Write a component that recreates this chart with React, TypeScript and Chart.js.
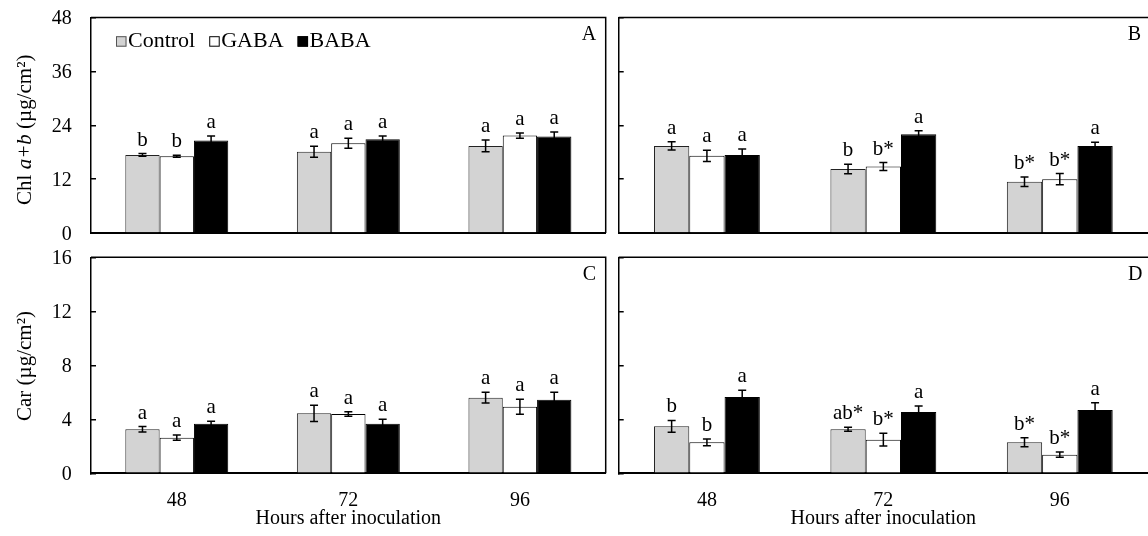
import React, { useEffect, useRef } from "react";
import { Chart, registerables } from "chart.js";

Chart.register(...registerables);

// ---- data ---------------------------------------------------------------
const hours = ["48", "72", "96"];
const treatments = ["Control", "GABA", "BABA"];

// Chl a+b (µg/cm²); rows: Control, GABA, BABA; columns: 48, 72, 96 h
const chlLeftMeans = [
  [17.4, 18.1, 19.4],
  [17.1, 20.0, 21.7],
  [20.6, 20.9, 21.5],
];
const chlLeftErrors = [
  [0.3, 1.2, 1.3],
  [0.2, 1.1, 0.6],
  [1.0, 0.7, 1.0],
];
const chlLeftLetters = [
  ["b", "a", "a"],
  ["b", "a", "a"],
  ["a", "a", "a"],
];

const chlRightMeans = [
  [19.4, 14.25, 11.4],
  [17.2, 14.8, 12.0],
  [17.4, 22.0, 19.4],
];
const chlRightErrors = [
  [0.9, 1.05, 1.05],
  [1.25, 0.9, 1.25],
  [1.3, 0.8, 0.8],
];
const chlRightLetters = [
  ["a", "b", "b*"],
  ["a", "b*", "b*"],
  ["a", "a", "a"],
];

// Car (µg/cm²)
const carLeftMeans = [
  [3.26, 4.44, 5.6],
  [2.64, 4.39, 4.93],
  [3.67, 3.67, 5.45],
];
const carLeftErrors = [
  [0.2, 0.6, 0.4],
  [0.2, 0.17, 0.55],
  [0.18, 0.33, 0.55],
];
const carLeftLetters = [
  ["a", "a", "a"],
  ["a", "a", "a"],
  ["a", "a", "a"],
];

const carRightMeans = [
  [3.48, 3.26, 2.3],
  [2.3, 2.49, 1.38],
  [5.65, 4.54, 4.69],
];
const carRightErrors = [
  [0.44, 0.15, 0.34],
  [0.25, 0.47, 0.2],
  [0.5, 0.44, 0.54],
];
const carRightLetters = [
  ["b", "ab*", "b*"],
  ["b", "b*", "b*"],
  ["a", "a", "a"],
];

const chlAxis = { max: 48, step: 12 };
const carAxis = { max: 16, step: 4 };

// ---- styling --------------------------------------------------------------
const SERIF = "'Liberation Serif', 'Times New Roman', serif";
const fills = ["#d3d3d3", "#ffffff", "#000000"];
const edges = ["#222222", "#000000", "#000000"];

type TitlePart = { text: string; italic?: boolean };

type PanelSpec = {
  tag: string;
  x: number;
  y: number;
  w: number;
  h: number;
  padTop: number;
  padRight: number;
  yWidth: number;
  xHeight: number;
  showY: boolean;
  showX: boolean;
  rightBorder: boolean;
  tagInset: number;
  legend: boolean;
  yTitle: TitlePart[] | null;
  yTitleShift: number;
  axis: { max: number; step: number };
  means: number[][];
  errors: number[][];
  letters: string[][];
};

const panels: PanelSpec[] = [
  {
    tag: "A", x: 0, y: 0, w: 612, h: 245, padTop: 17.5, padRight: 6.3,
    yWidth: 91, xHeight: 12, showY: true, showX: false, rightBorder: true,
    tagInset: 9.5, legend: true,
    yTitle: [{ text: "Chl " }, { text: "a+b", italic: true }, { text: " (µg/cm²)" }],
    yTitleShift: 4.5, axis: chlAxis,
    means: chlLeftMeans, errors: chlLeftErrors, letters: chlLeftLetters,
  },
  {
    tag: "B", x: 612, y: 0, w: 536, h: 245, padTop: 17.5, padRight: 0,
    yWidth: 6.7, xHeight: 12, showY: false, showX: false, rightBorder: false,
    tagInset: 7, legend: false, yTitle: null, yTitleShift: 0, axis: chlAxis,
    means: chlRightMeans, errors: chlRightErrors, letters: chlRightLetters,
  },
  {
    tag: "C", x: 0, y: 245, w: 612, h: 291, padTop: 12.3, padRight: 6.3,
    yWidth: 91, xHeight: 62.7, showY: true, showX: true, rightBorder: true,
    tagInset: 9.5, legend: false,
    yTitle: [{ text: "Car (µg/cm²)" }], yTitleShift: 0.7, axis: carAxis,
    means: carLeftMeans, errors: carLeftErrors, letters: carLeftLetters,
  },
  {
    tag: "D", x: 612, y: 245, w: 536, h: 291, padTop: 12.3, padRight: 0,
    yWidth: 6.7, xHeight: 62.7, showY: false, showX: true, rightBorder: false,
    tagInset: 5.5, legend: false, yTitle: null, yTitleShift: 0, axis: carAxis,
    means: carRightMeans, errors: carRightErrors, letters: carRightLetters,
  },
];

// Error bars, significance letters, frame, panel tag, legend and y title
function decorPlugin(p: PanelSpec) {
  return {
    id: "panelDecor" + p.tag,
    afterDatasetsDraw(chart: any) {
      const ctx: CanvasRenderingContext2D = chart.ctx;
      const area = chart.chartArea;
      const yScale = chart.scales.y;
      ctx.save();

      chart.data.datasets.forEach((_ds: any, i: number) => {
        const meta = chart.getDatasetMeta(i);
        meta.data.forEach((bar: any, j: number) => {
          const mean = p.means[i][j];
          const err = p.errors[i][j];
          const x = bar.x;
          const yTop = yScale.getPixelForValue(mean + err);
          const yBot = yScale.getPixelForValue(mean - err);
          ctx.strokeStyle = "#000";
          ctx.lineWidth = 1.5;
          ctx.beginPath();
          ctx.moveTo(x, yTop);
          ctx.lineTo(x, yBot);
          ctx.moveTo(x - 4, yTop);
          ctx.lineTo(x + 4, yTop);
          ctx.moveTo(x - 4, yBot);
          ctx.lineTo(x + 4, yBot);
          ctx.stroke();

          ctx.fillStyle = "#000";
          ctx.font = `21px ${SERIF}`;
          ctx.textAlign = "center";
          ctx.textBaseline = "alphabetic";
          ctx.fillText(p.letters[i][j], x, yTop - 8);
        });
      });

      // frame: top edge and (where visible) right edge
      ctx.strokeStyle = "#000";
      ctx.lineWidth = 1.5;
      ctx.beginPath();
      ctx.moveTo(area.left, area.top);
      ctx.lineTo(area.right, area.top);
      if (p.rightBorder) ctx.lineTo(area.right, area.bottom);
      ctx.stroke();

      // panel tag
      ctx.fillStyle = "#000";
      ctx.font = `20px ${SERIF}`;
      ctx.textAlign = "right";
      ctx.textBaseline = "alphabetic";
      ctx.fillText(p.tag, area.right - p.tagInset, area.top + 22.5);

      // legend inside the first panel
      if (p.legend) {
        ctx.font = `22px ${SERIF}`;
        ctx.textAlign = "left";
        const baseline = 46.7;
        let lx = 116;
        treatments.forEach((name, i) => {
          ctx.fillStyle = fills[i];
          ctx.fillRect(lx, baseline - 10.5, 10.5, 10.5);
          ctx.strokeStyle = i === 0 ? "#555" : "#000";
          ctx.lineWidth = 1;
          ctx.strokeRect(lx + 0.5, baseline - 10, 9.5, 9.5);
          ctx.fillStyle = "#000";
          ctx.fillText(name, lx + 12, baseline);
          lx += 12 + ctx.measureText(name).width + 14;
        });
      }

      // rotated y-axis title with mixed styles
      if (p.yTitle) {
        const fontFor = (part: TitlePart) =>
          `${part.italic ? "italic " : ""}21px ${SERIF}`;
        let total = 0;
        const widths = p.yTitle.map((part) => {
          ctx.font = fontFor(part);
          const w = ctx.measureText(part.text).width;
          total += w;
          return w;
        });
        const cy = (area.top + area.bottom) / 2 + p.yTitleShift;
        ctx.translate(31, cy);
        ctx.rotate(-Math.PI / 2);
        ctx.textAlign = "left";
        ctx.textBaseline = "alphabetic";
        ctx.fillStyle = "#000";
        let tx = -total / 2;
        p.yTitle.forEach((part, k) => {
          ctx.font = fontFor(part);
          ctx.fillText(part.text, tx, 0);
          tx += widths[k];
        });
      }
      ctx.restore();
    },
  };
}

function buildConfig(p: PanelSpec): any {
  const tickFont = { family: SERIF, size: 20 };
  return {
    type: "bar",
    data: {
      labels: hours,
      datasets: treatments.map((name, i) => ({
        label: name,
        data: p.means[i],
        backgroundColor: fills[i],
        borderColor: edges[i],
        borderWidth: 1,
        categoryPercentage: 0.6,
        barPercentage: 1.0,
      })),
    },
    options: {
      responsive: false,
      animation: false,
      events: [],
      layout: { padding: { top: p.padTop, right: p.padRight, bottom: 0, left: 0 } },
      plugins: {
        legend: { display: false },
        tooltip: { enabled: false },
      },
      scales: {
        x: {
          grid: { display: false, drawTicks: false },
          border: { display: true, color: "#000", width: 2 },
          ticks: { display: p.showX, font: tickFont, color: "#000", padding: 15 },
          title: {
            display: p.showX,
            text: "Hours after inoculation",
            font: tickFont,
            color: "#000",
            padding: 5.5,
          },
          afterFit: (s: any) => {
            s.height = p.xHeight;
            s.paddingLeft = 0;
            s.paddingRight = 0;
          },
        },
        y: {
          min: 0,
          max: p.axis.max,
          ticks: {
            stepSize: p.axis.step,
            display: p.showY,
            font: tickFont,
            color: "#000",
            padding: 24.3,
            labelOffset: 1.5,
          },
          grid: {
            drawOnChartArea: false,
            drawTicks: true,
            tickLength: -5,
            color: "#000",
            lineWidth: 1.5,
          },
          border: { display: true, color: "#000", width: 1.5 },
          afterFit: (s: any) => {
            s.width = p.yWidth;
            s.paddingTop = 0;
            s.paddingBottom = 0;
          },
        },
      },
    },
    plugins: [decorPlugin(p)],
  };
}

function Panel({ spec }: { spec: PanelSpec }) {
  const ref = useRef<HTMLCanvasElement>(null);
  useEffect(() => {
    if (!ref.current) return;
    const chart = new Chart(ref.current, buildConfig(spec));
    return () => chart.destroy();
  }, [spec]);
  return (
    <canvas
      ref={ref}
      width={spec.w}
      height={spec.h}
      style={{
        position: "absolute",
        left: spec.x,
        top: spec.y,
        width: spec.w,
        height: spec.h,
      }}
    />
  );
}

export default function App() {
  return (
    <div
      style={{
        position: "fixed",
        left: 0,
        top: 0,
        width: 1148,
        height: 536,
        background: "#fff",
        overflow: "hidden",
      }}
    >
      {panels.map((p) => (
        <Panel key={p.tag} spec={p} />
      ))}
    </div>
  );
}
